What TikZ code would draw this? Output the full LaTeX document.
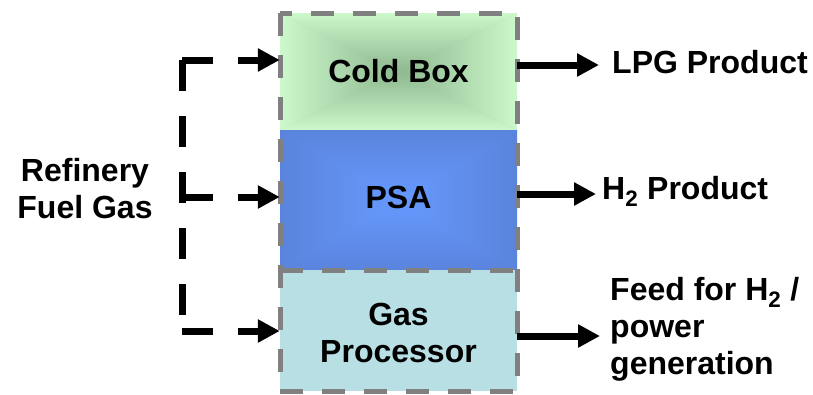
\documentclass[tikz,border=0pt]{standalone}
\usepackage{fontspec}
\setmainfont{Liberation Sans}
\usetikzlibrary{arrows.meta}

\definecolor{frameGray}{HTML}{808080}
\definecolor{coldEdge}{HTML}{CCF8CC}
\definecolor{coldMid}{HTML}{8EB88E}
\definecolor{psaEdge}{HTML}{5A84DC}
\definecolor{psaMid}{HTML}{6699FF}
\definecolor{gasFill}{HTML}{B8E0E4}

% Rectangle gradient: four triangles, each shaded from its edge to the centre,
% laid over a flat base so the triangle seams do not show
\newcommand\rectgrad[6]{%
  \fill[#5!50!#6] (#1,#2) rectangle (#3,#4);
  \begin{scope}
    \clip (#1,#2) -- (#3,#2) -- ({(#1+#3)/2},{(#2+#4)/2}) -- cycle;
    \shade[top color=#5,bottom color=#6] (#1,#2) rectangle (#3,{(#2+#4)/2});
  \end{scope}
  \begin{scope}
    \clip (#1,#4) -- (#3,#4) -- ({(#1+#3)/2},{(#2+#4)/2}) -- cycle;
    \shade[top color=#6,bottom color=#5] (#1,{(#2+#4)/2}) rectangle (#3,#4);
  \end{scope}
  \begin{scope}
    \clip (#1,#2) -- (#1,#4) -- ({(#1+#3)/2},{(#2+#4)/2}) -- cycle;
    \shade[left color=#5,right color=#6] (#1,#2) rectangle ({(#1+#3)/2},#4);
  \end{scope}
  \begin{scope}
    \clip (#3,#2) -- (#3,#4) -- ({(#1+#3)/2},{(#2+#4)/2}) -- cycle;
    \shade[left color=#6,right color=#5] ({(#1+#3)/2},#2) rectangle (#3,#4);
  \end{scope}}

\tikzset{
  lbl/.style={font=\fontsize{32}{37}\selectfont\bfseries, inner sep=0pt},
  unitbox/.style={lbl, minimum width=237pt, align=center},
  fuel/.style={line width=7pt, dash pattern=on 31pt off 25pt, black},
  outflow/.style={line width=7pt, black},
  tip/.style={-{Triangle[length=22pt,width=22pt]}},
  frame/.style={line width=5pt, frameGray, dash pattern=on 23pt off 19pt}
}

\begin{document}
\begin{tikzpicture}[x=1pt,y=-1pt]
  \useasboundingbox (0,0) rectangle (813,394);

  % unit fills
  \rectgrad{280}{13}{517}{130}{coldEdge}{coldMid}
  \rectgrad{280}{130}{517}{270}{psaEdge}{psaMid}
  \fill[gasFill] (280,270) rectangle (517,391);

  % dashed outline of the stack and the divider above the gas processor
  \draw[frame] (280,13) rectangle (517,391);
  \draw[frame] (280,270) -- (517,270);

  % unit labels
  \node[unitbox, minimum height=117pt] (cold) at (398.5,71.5) {Cold Box};
  \node[unitbox, minimum height=140pt] (psa) at (398.5,197) {PSA};
  \node[unitbox, minimum height=121pt] (gas) at (398.5,333) {Gas\\Processor};

  % fuel gas header
  \node[lbl, align=center] (fuel) at (85,189) {Refinery\\Fuel Gas};
  \coordinate (ftop) at (182,60);
  \coordinate (fmid) at (182,197);
  \coordinate (fbot) at (182,331);
  \draw[fuel] (ftop) -- (fbot);
  \draw[fuel, tip] (ftop) -- (cold.west |- ftop);
  \draw[fuel, tip] (fmid) -- (psa.west);
  \draw[fuel, tip] (fbot) -- (gas.west |- fbot);

  % products
  \node[lbl, anchor=west] (lpg) at (612,62) {LPG Product};
  \node[lbl, anchor=west] (h2) at (602,191) {H\textsubscript{2} Product};
  \node[lbl, anchor=north west, align=left] (feed) at (610,277)
    {Feed for H\textsubscript{2} /\\power\\generation};

  \coordinate (lpgIn) at (599,65);
  \coordinate (h2In) at (596,194);
  \coordinate (feedIn) at (600,336);
  \draw[outflow, tip] (cold.east |- lpgIn) -- (lpgIn);
  \draw[outflow, tip] (psa.east |- h2In) -- (h2In);
  \draw[outflow, tip] (gas.east |- feedIn) -- (feedIn);
\end{tikzpicture}
\end{document}
